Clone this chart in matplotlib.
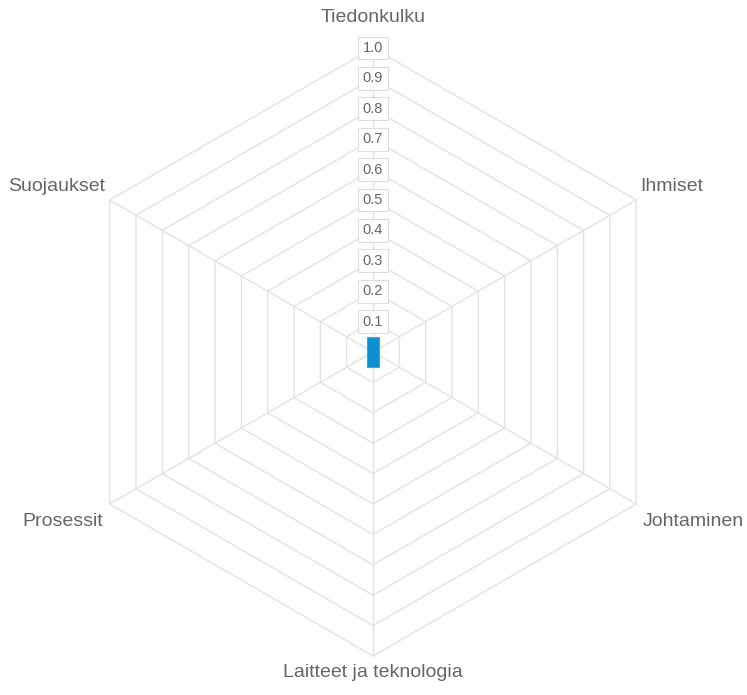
import numpy as np
import matplotlib
matplotlib.use("Agg")
from matplotlib import pyplot as plt
from matplotlib.patches import Rectangle

plt.rcParams['font.family'] = ['Liberation Sans', 'DejaVu Sans']

categories = ["Tiedonkulku", "Ihmiset", "Johtaminen",
              "Laitteet ja teknologia", "Prosessit", "Suojaukset"]
levels = [0.1, 0.2, 0.3, 0.4, 0.5, 0.6, 0.7, 0.8, 0.9, 1.0]
tick_labels = ["0.1", "0.2", "0.3", "0.4", "0.5", "0.6", "0.7", "0.8", "0.9", "1.0"]
bar_low = -0.05
bar_high = 0.05

grid_col = "#e2e2e2"
text_col = "#666666"

fig = plt.figure(figsize=(7.47, 6.95), dpi=100)
ax = fig.add_axes([0, 0, 1, 1])
ax.set_xlim(-373 / 304, (747 - 373) / 304)
ax.set_ylim(-(695 - 352) / 304, 352 / 304)
ax.axis("off")

n = len(categories)
ang = np.pi / 2 - np.arange(n) * 2 * np.pi / n

# hexagon rings
for r in levels:
    xs = np.append(r * np.cos(ang), r * np.cos(ang[0]))
    ys = np.append(r * np.sin(ang), r * np.sin(ang[0]))
    ax.plot(xs, ys, color=grid_col, lw=1, zorder=1)

# spokes
for a in ang:
    ax.plot([0, np.cos(a)], [0, np.sin(a)], color=grid_col, lw=1, zorder=1)

# the single bar in the middle
ax.add_patch(Rectangle((-0.02, bar_low), 0.04, bar_high - bar_low,
                       facecolor="#0a90d0", edgecolor="#3aa6dc", lw=0.8, zorder=2))

# ring values
for r, lab in zip(levels, tick_labels):
    ax.text(0, r, lab, ha="center", va="center", fontsize=10.5, color=text_col, zorder=3,
            bbox=dict(boxstyle="square,pad=0.3", facecolor="white", edgecolor="#dddddd", lw=0.8))

# category labels
label_pos = [(0, 1.099, "center"), (0.878, 0.543, "left"), (0.888, -0.559, "left"),
             (0, -1.053, "center"), (-0.888, -0.559, "right"), (-0.881, 0.543, "right")]
for name, (x, y, ha) in zip(categories, label_pos):
    ax.text(x, y, name, ha=ha, va="center", fontsize=14, color=text_col)

fig.savefig("out.png", dpi=100)
